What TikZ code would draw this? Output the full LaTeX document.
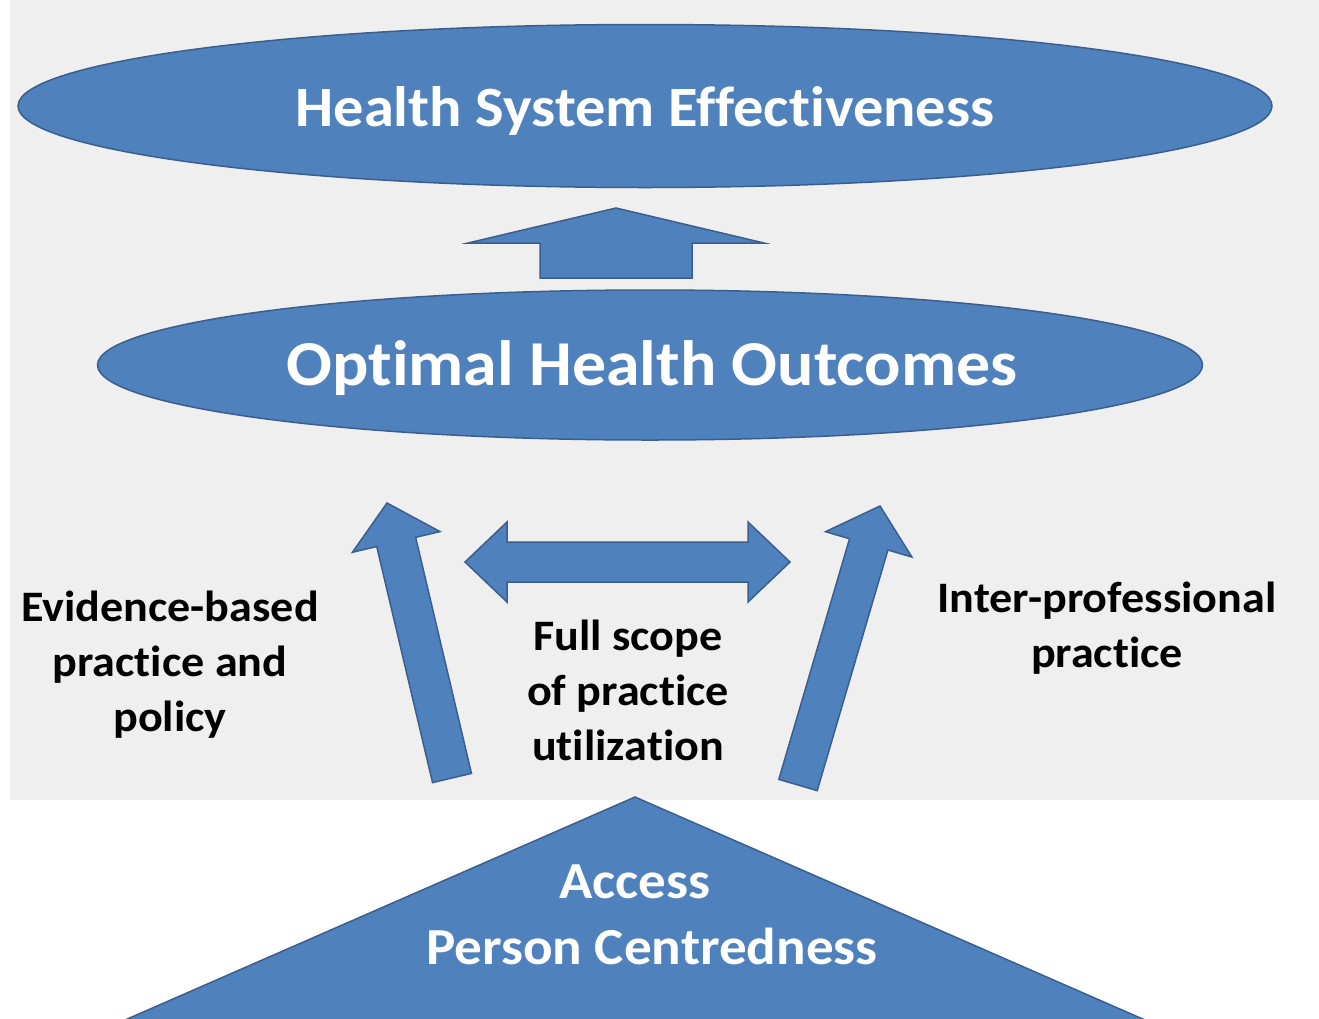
\documentclass[tikz,border=0pt]{standalone}
\usepackage{fontspec}
\setmainfont{Carlito}[Ligatures=NoCommon, FakeStretch=1.06]
\usetikzlibrary{shapes.geometric,calc}

\definecolor{hsblue}{HTML}{4F81BD}
\definecolor{hsedge}{HTML}{3A5F8E}
\definecolor{photogray}{HTML}{EFEFEF}

\tikzset{
  blueshape/.style={fill=hsblue, draw=hsedge, line width=1.5pt},
  toptext/.style={text=white, font=\bfseries\fontsize{57}{66}\selectfont},
  midtext/.style={text=white, font=\bfseries\fontsize{64}{72}\selectfont},
  basetext/.style={text=white, align=center, font=\bfseries\fontsize{52}{66}\selectfont},
  sidetext/.style={align=center, font=\bfseries\fontsize{43.5}{55}\selectfont},
}

% block arrow: tail, tip, shaft half width, head half width, head length
\newcommand\blockarrow[5]{%
  \coordinate (ahead) at ($(#2)!#5!(#1)$);
  \draw[blueshape] ($(#1)!#3!90:(#2)$) -- ($(ahead)!#3!90:(#2)$)
    -- ($(ahead)!#4!90:(#2)$) -- (#2) -- ($(ahead)!#4!-90:(#2)$)
    -- ($(ahead)!#3!-90:(#2)$) -- ($(#1)!#3!-90:(#2)$) -- cycle;}

% two headed block arrow: left tip, right tip, shaft half, head half, head length
\newcommand\twowayarrow[5]{%
  \coordinate (lhead) at ($(#1)!#5!(#2)$);
  \coordinate (rhead) at ($(#2)!#5!(#1)$);
  \draw[blueshape] (#1) -- ($(lhead)!#4!90:(#2)$) -- ($(lhead)!#3!90:(#2)$)
    -- ($(rhead)!#3!90:(#2)$) -- ($(rhead)!#4!90:(#2)$) -- (#2)
    -- ($(rhead)!#4!-90:(#2)$) -- ($(rhead)!#3!-90:(#2)$)
    -- ($(lhead)!#3!-90:(#2)$) -- ($(lhead)!#4!-90:(#2)$) -- cycle;}

\begin{document}
\begin{tikzpicture}[x=1pt,y=-1pt]
    \useasboundingbox (0,0) rectangle (1319,1018);
    \fill[white] (0,0) rectangle (1319,1018);
    \fill[photogray] (10,0) rectangle (1319,800);

    % the two goals
    \node[ellipse, blueshape, inner sep=0, minimum width=1254pt, minimum height=163pt]
        (hse) at (645,106) {};
    \node[toptext] (hsetext) at ($(hse)+(0,5)$) {Health System Effectiveness};
    \node[ellipse, blueshape, inner sep=0, minimum width=1105pt, minimum height=150pt]
        (oho) at (650,365) {};
    \node[midtext] (ohotext) at ($(oho)+(2,3)$) {Optimal Health Outcomes};

    % the base
    \draw[blueshape] (125,1020) -- (635,797) -- (1145,1020) -- cycle;
    \node[basetext] (access) at (652,915) {Access\hspace*{34pt}\\Person Centredness};

    % arrows
    \coordinate (upTail) at (616,278);
    \coordinate (upTip) at (616,208);
    \blockarrow{upTail}{upTip}{76pt}{148pt}{35pt}

    \coordinate (leftTail) at (452,778);
    \coordinate (leftTip) at (387,503);
    \blockarrow{leftTail}{leftTip}{20pt}{45pt}{40pt}

    \coordinate (rightTail) at (798,785);
    \coordinate (rightTip) at (880,506);
    \blockarrow{rightTail}{rightTip}{20pt}{45pt}{40pt}

    \coordinate (scopeL) at (465,562);
    \coordinate (scopeR) at (790,562);
    \twowayarrow{scopeL}{scopeR}{20pt}{40pt}{42pt}

    % labels
    \node[sidetext] (evidence) at (170,665) {Evidence-based\\practice and\\policy};
    \node[sidetext] (fullscope) at (628,690) {Full scope\\of practice\\utilization};
    \node[sidetext] (interprof) at (1107,628) {Inter-professional\\practice};
\end{tikzpicture}
\end{document}
